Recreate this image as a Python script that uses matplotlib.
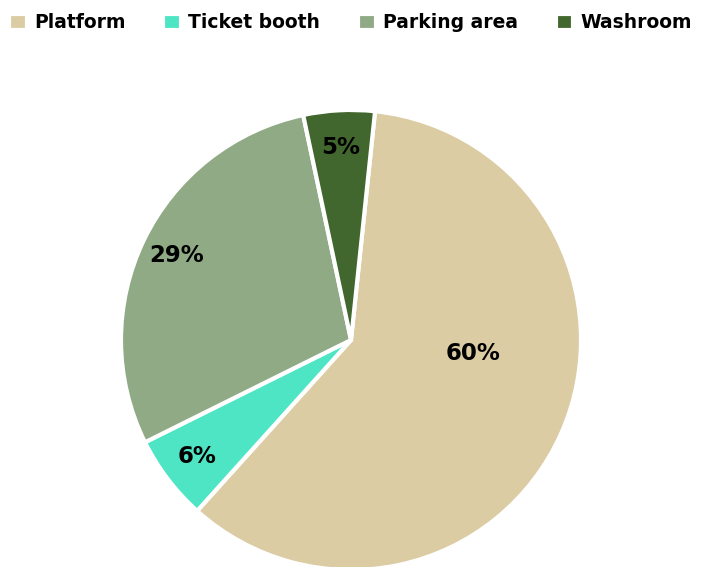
import matplotlib.pyplot as plt

labels = ['Platform', 'Ticket booth', 'Parking area', 'Washroom']
values = [60, 6, 29, 5]
colors = ['#DBCCA3', '#4DE5C4', '#8FAA85', '#41672E']

plt.rcParams['font.family'] = ['DejaVu Sans']

fig = plt.figure(figsize=(7.01, 5.67), dpi=100)
ax = fig.add_axes([0, 0, 1, 1])

wedges, texts, autotexts = ax.pie(
    values, colors=colors, startangle=84, counterclock=False,
    center=(351, 227), radius=230, autopct='%1.0f%%', pctdistance=0.84,
    wedgeprops=dict(edgecolor='white', linewidth=3),
    textprops=dict(fontsize=16.5, fontweight='bold', color='black'),
)
# big slice label sits nearer the centre, slightly above its mid-angle
autotexts[0].set_position((473, 214))

ax.set_xlim(0, 701)
ax.set_ylim(0, 567)
ax.set_aspect('equal')
ax.axis('off')

fig.legend(wedges, labels, loc='upper center', bbox_to_anchor=(0.5, 1.006),
           ncol=4, frameon=False, handlelength=0.95, handleheight=1.0,
           handletextpad=0.4, columnspacing=2.0,
           prop=dict(size=13.5, weight='bold'))

fig.savefig('out.png', dpi=100)
